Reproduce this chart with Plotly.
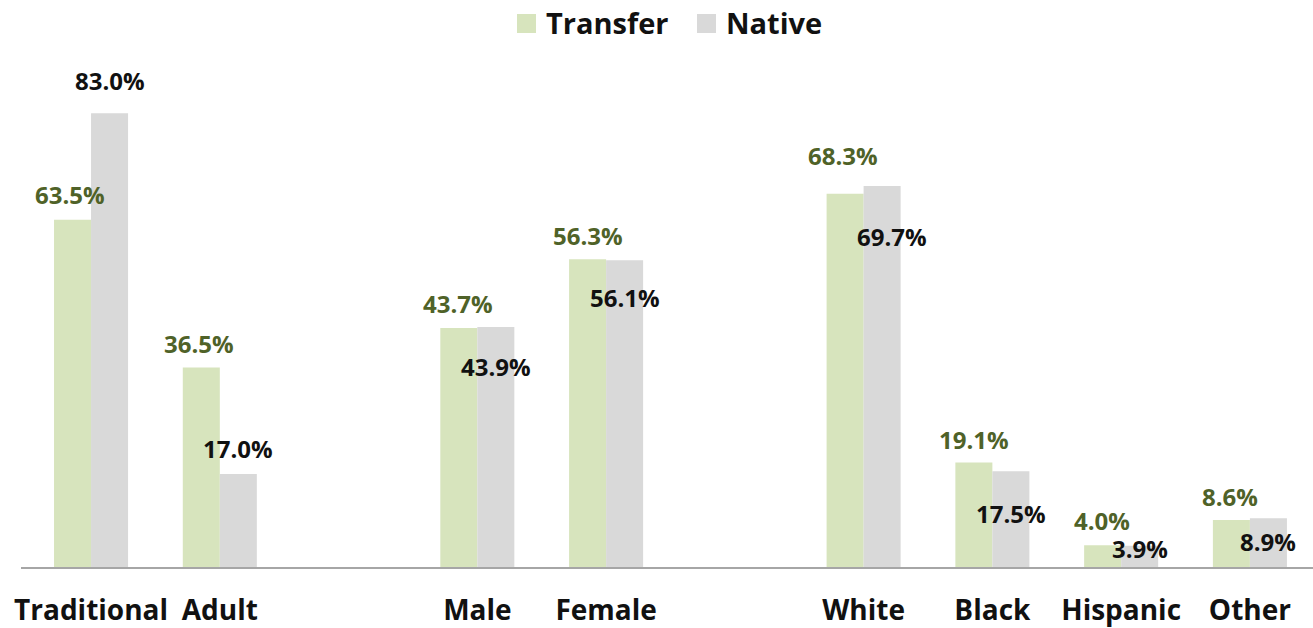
import plotly.graph_objects as go

groups = [["Traditional", "Adult"], ["Male", "Female"], ["White", "Black", "Hispanic", "Other"]]
series_names = ["Transfer", "Native"]
transfer = [63.5, 36.5, 43.7, 56.3, 68.3, 19.1, 4.0, 8.6]
native = [83.0, 17.0, 43.9, 56.1, 69.7, 17.5, 3.9, 8.9]

# label offsets (style): pixel shifts for value labels
transfer_yshift = [25, 24, 25, 24, 38, 23, 25, 23]
native_yshift = [33, 26, -39, -37, -51, -42, -3, -23]
native_xshift = [0, 0, 0, 0, 10, 0, 0, 0]
transfer_xshift = [-3, -2, -1, 0, -2, 0, -1, -1]

# slot positions with an empty slot between groups
categories, xpos = [], []
pos = 0
for g in groups:
    for c in g:
        categories.append(c)
        xpos.append(pos)
        pos += 1
    pos += 1

FONT = "Open Sans"
GREEN = "#d7e4bd"
GRAY = "#d9d9d9"
DARKGREEN = "#4f6228"
W, H = 1313, 628
ML, MR, MT, MB = 21, 0, 75, 61
PW, PH = W - ML - MR, H - MT - MB


def px_x(p):
    return (p - ML) / PW


def px_y(p):
    return (H - MB - p) / PH


fig = go.Figure()
fig.add_trace(go.Bar(name=series_names[0], x=xpos, y=transfer, showlegend=False,
                     marker=dict(color=GREEN, line=dict(width=0))))
fig.add_trace(go.Bar(name=series_names[1], x=xpos, y=native, showlegend=False,
                     marker=dict(color=GRAY, line=dict(width=0))))

bw = 0.2875
for i, x in enumerate(xpos):
    fig.add_annotation(x=x - bw / 2, y=transfer[i], text=f"{transfer[i]:.1f}%", showarrow=False,
                       yshift=transfer_yshift[i], xshift=transfer_xshift[i], xanchor="center", yanchor="middle",
                       font=dict(family=FONT, size=24, color=DARKGREEN, weight="bold"))
    fig.add_annotation(x=x + bw / 2, y=native[i], text=f"{native[i]:.1f}%", showarrow=False,
                       yshift=native_yshift[i], xshift=native_xshift[i], xanchor="center", yanchor="middle",
                       font=dict(family=FONT, size=24, color="#111111", weight="bold"))

# manual legend (square swatches + labels)
legend_items = [(series_names[0], GREEN, 517), (series_names[1], GRAY, 697)]
for name, col, sx in legend_items:
    fig.add_shape(type="rect", xref="paper", yref="paper",
                  x0=px_x(sx), x1=px_x(sx + 19), y0=px_y(33), y1=px_y(14),
                  fillcolor=col, line=dict(width=0))
    fig.add_annotation(xref="paper", yref="paper", x=px_x(sx + 27), y=px_y(23), text=name,
                       showarrow=False, xanchor="left", yanchor="middle",
                       font=dict(family=FONT, size=29, color="#111111", weight="bold"))

fig.update_layout(
    width=W, height=H,
    margin=dict(l=ML, r=MR, t=MT, b=MB, autoexpand=False),
    plot_bgcolor="white", paper_bgcolor="white",
    barmode="group", bargap=0.425, bargroupgap=0,
    font=dict(family=FONT, color="#111111"),
    showlegend=False,
    xaxis=dict(range=[-0.544, 9.49], tickmode="array", tickvals=xpos, ticktext=categories,
               showline=True, linecolor="#a6a6a6", linewidth=1.5, showgrid=False, zeroline=False,
               ticks="", ticklabelstandoff=18, automargin=False,
               tickfont=dict(family=FONT, size=28, color="#111111", weight="bold")),
    yaxis=dict(range=[0, 90], visible=False, showgrid=False, zeroline=False),
)

fig.write_html("out.html", config={"displayModeBar": False},
               post_script="document.body.style.margin='0';")
